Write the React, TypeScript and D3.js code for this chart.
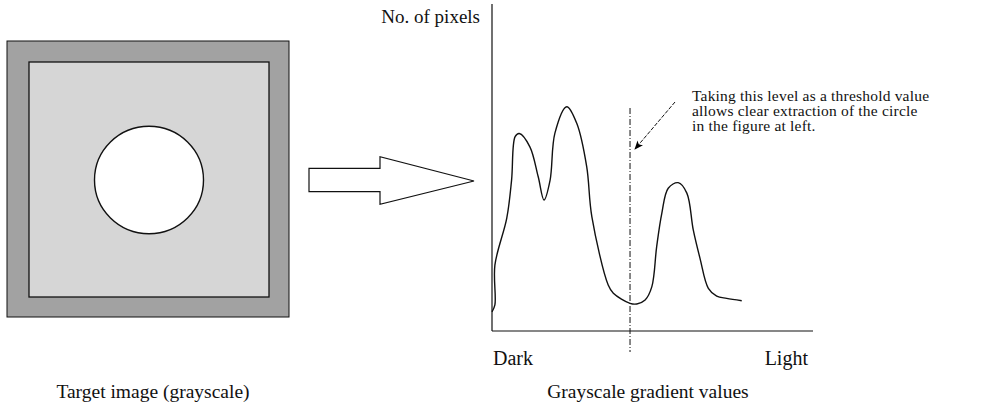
import React from "react";
import * as d3 from "d3";

// Histogram of gray levels (level 0 = dark, 100 = light), pixel counts in arbitrary units
const levels = [0, 0.9, 0.9, 4.6, 6.1, 7.2, 8.5, 11.8, 14.4, 16.2, 18.1, 19.6, 23.3, 26.4, 29.5, 31.1, 36.2, 37.8, 43.0, 45.1, 47.7, 49.8, 51.3, 52.9, 54.9, 58.0, 60.7, 62.7, 64.8, 67.4, 70.0, 73.1, 77.8];
const counts = [5.9, 8.0, 20.2, 34.6, 46.3, 59.6, 60.6, 56.5, 47.3, 40.2, 46.3, 60.7, 68.8, 63.7, 50.4, 35.1, 14.1, 11.6, 8.5, 8.3, 9.5, 13.6, 25.9, 36.1, 43.8, 45.5, 42.3, 31.0, 22.3, 13.1, 10.7, 10.0, 9.3];
const thresholdLevel = [43.0];
const axisLabels = ["Dark", "Light"];
const yAxisTitle = "No. of pixels";
const annotationLines = [
  "Taking this level as a threshold value",
  "allows clear extraction of the circle",
  "in the figure at left.",
];
const captions = ["Target image (grayscale)", "Grayscale gradient values"];

const W = 1002;
const H = 406;
const FONT = "'Liberation Serif', 'DejaVu Serif', serif";

export default function App() {
  const x = d3.scaleLinear().domain([0, 100]).range([492, 813]);
  const y = d3.scaleLinear().domain([0, 100]).range([331, 5]);

  const pts: [number, number][] = levels.map((l, i) => [l, counts[i]]);
  const line = d3
    .line<[number, number]>()
    .x((d) => x(d[0]))
    .y((d) => y(d[1]))
    .curve(d3.curveCatmullRom.alpha(0.5));
  const path = line(pts) || "";

  const tx = x(thresholdLevel[0]);

  return (
    <svg
      width={W}
      height={H}
      style={{ position: "absolute", left: 0, top: 0, background: "#fff" }}
      fontFamily={FONT}
    >
      <defs>
        <marker id="ah" viewBox="0 0 10 10" refX="9" refY="5" markerWidth="9" markerHeight="9" orient="auto">
          <path d="M0,1 L10,5 L0,9 L2.5,5 Z" fill="#000" />
        </marker>
      </defs>

      {/* Target image */}
      <rect x={7} y={41} width={282} height={276} fill="#a2a2a2" stroke="#111" strokeWidth={1} />
      <rect x={29} y={62} width={240} height={235} fill="#d6d6d6" stroke="#111" strokeWidth={1.3} />
      <ellipse cx={149} cy={180} rx={54.5} ry={53.7} fill="#fff" stroke="#111" strokeWidth={1.4} />

      {/* Big arrow */}
      <path
        d="M309,168.3 L380,168.3 L380,156.7 L474,181 L380,204.3 L380,191.7 L309,191.7 Z"
        fill="#fff"
        stroke="#111"
        strokeWidth={1.2}
      />

      {/* Axes */}
      <line x1={x(0)} y1={4} x2={x(0)} y2={y(0)} stroke="#111" strokeWidth={1.2} />
      <line x1={x(0)} y1={y(0)} x2={813} y2={y(0)} stroke="#111" strokeWidth={1.2} />

      {/* Histogram curve */}
      <path d={path} fill="none" stroke="#111" strokeWidth={1.4} />

      {/* Threshold line */}
      <line x1={tx} y1={108} x2={tx} y2={352} stroke="#111" strokeWidth={1} strokeDasharray="6,2,1,2" />

      {/* Annotation arrow */}
      <line x1={675} y1={102} x2={635} y2={149} stroke="#111" strokeWidth={1} strokeDasharray="4,1.5" markerEnd="url(#ah)" />

      {/* Texts */}
      <text x={480} y={23} fontSize={19} textAnchor="end" fill="#111">{yAxisTitle}</text>
      <text x={493} y={365} fontSize={20} fill="#111">{axisLabels[0]}</text>
      <text x={808} y={365} fontSize={20} textAnchor="end" fill="#111">{axisLabels[1]}</text>
      <text x={692} y={101} fontSize={15.5} letterSpacing={0.2} fill="#111">
        {annotationLines.map((t, i) => (
          <tspan key={i} x={692} dy={i === 0 ? 0 : 15}>{t}</tspan>
        ))}
      </text>
      <text x={153} y={398} fontSize={19.5} textAnchor="middle" fill="#111">{captions[0]}</text>
      <text x={648} y={398} fontSize={19.5} textAnchor="middle" fill="#111">{captions[1]}</text>
    </svg>
  );
}
